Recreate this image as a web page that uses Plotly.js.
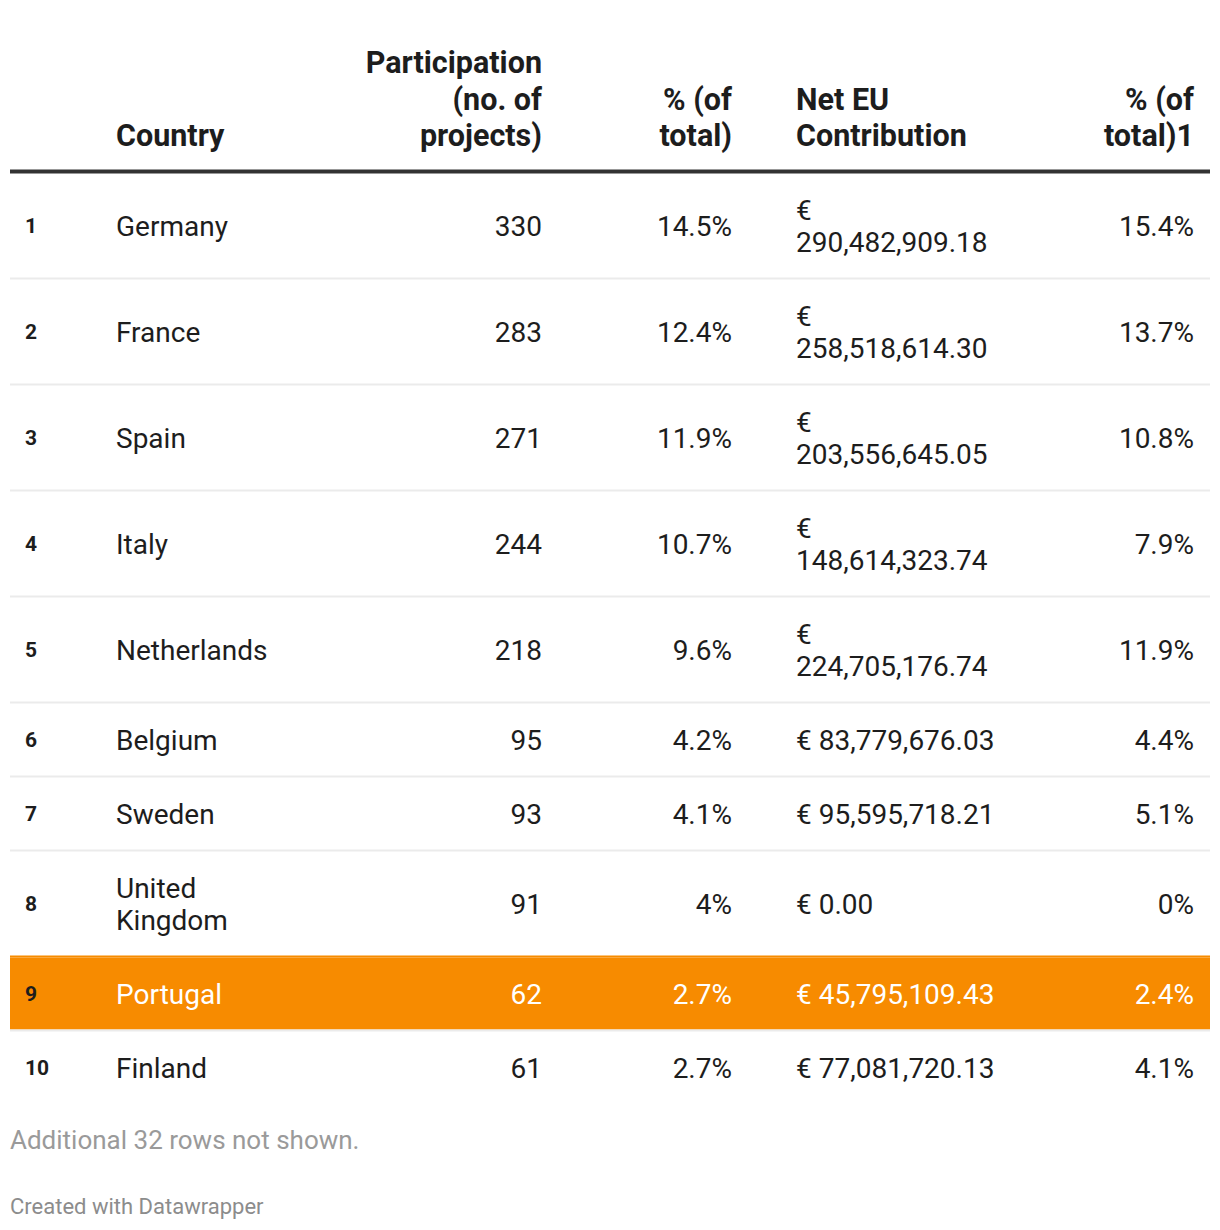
<!DOCTYPE html>
<html>
<head>
<meta charset="utf-8">
<script src="https://cdn.plot.ly/plotly-3.0.1.min.js"></script>
<style>
  html, body { margin: 0; padding: 0; background: #ffffff; }
  #chart { width: 1220px; height: 1230px; }
</style>
</head>
<body>
<div id="chart"></div>
<script>
// ---------------- data ----------------
const ranks = [1, 2, 3, 4, 5, 6, 7, 8, 9, 10];
const countries = ['Germany', 'France', 'Spain', 'Italy', 'Netherlands', 'Belgium', 'Sweden', 'United Kingdom', 'Portugal', 'Finland'];
const participation = [330, 283, 271, 244, 218, 95, 93, 91, 62, 61];
const participationShare = ['14.5%', '12.4%', '11.9%', '10.7%', '9.6%', '4.2%', '4.1%', '4%', '2.7%', '2.7%'];
const netContribution = [290482909.18, 258518614.30, 203556645.05, 148614323.74, 224705176.74, 83779676.03, 95595718.21, 0.00, 45795109.43, 77081720.13];
const contributionShare = ['15.4%', '13.7%', '10.8%', '7.9%', '11.9%', '4.4%', '5.1%', '0%', '2.4%', '4.1%'];
const headerLabels = ['', 'Country', 'Participation<br>(no. of<br>projects)', '% (of<br>total)', 'Net EU<br>Contribution', '% (of<br>total)1'];
const highlightCountry = 'Portugal';
const hiddenRowCount = 32;
const creditText = 'Created with Datawrapper';

// ---------------- layout constants ----------------
const W = 1220, H = 1230;
const TABLE_L = 10, TABLE_R = 1210;
const colX = [25, 116, 542, 732, 796, 1194];
const colAlign = ['left', 'left', 'right', 'right', 'left', 'right'];
const colWrap = [99, 12, 99, 99, 15, 99];
const BODY_FS = 28, RANK_FS = 21, HEAD_FS = 30.5;
const LINE_H = 32.5, HEAD_LINE_H = 36.4, HEAD_BASE = 146;
const TEXT = '#1d1d1d';
const ORANGE = '#f78b00';
const SEP = '#ebebeb';
const HEADER_LINE_Y = 171.5;
const BODY_TOP = 173.5;

function wrap(str, maxChars) {
  const words = String(str).split(' ');
  const lines = [];
  let cur = '';
  words.forEach(w => {
    const cand = cur ? cur + ' ' + w : w;
    if (cand.length > maxChars && cur) { lines.push(cur); cur = w; }
    else cur = cand;
  });
  if (cur) lines.push(cur);
  return lines;
}
function fmtEuro(v) {
  return '€ ' + v.toLocaleString('en-US', { minimumFractionDigits: 2, maximumFractionDigits: 2 });
}

// cell strings for each row
const rows = ranks.map((r, i) => [
  String(r),
  countries[i],
  String(participation[i]),
  participationShare[i],
  fmtEuro(netContribution[i]),
  contributionShare[i]
]);

// geometry derived from wrapped line counts
const shapes = [];
let y = BODY_TOP;
const rowCenters = [];
const rowLines = [];
rows.forEach((cells, i) => {
  const wrapped = cells.map((c, j) => wrap(c, colWrap[j]));
  const n = Math.max(...wrapped.map(w => w.length));
  const h = 40 + 32 * n;
  const isHi = countries[i] === highlightCountry;
  if (i > 0) {
    shapes.push({ type: 'rect', xref: 'x', yref: 'y', x0: TABLE_L, x1: TABLE_R, y0: y, y1: y + 2,
      fillcolor: isHi ? ORANGE : SEP, line: { width: 0 }, layer: 'below' });
    y += 2;
  }
  if (isHi) {
    shapes.push({ type: 'rect', xref: 'x', yref: 'y', x0: TABLE_L, x1: TABLE_R, y0: y, y1: y + h,
      fillcolor: ORANGE, line: { width: 0 }, layer: 'below' });
  }
  rowCenters.push(y + h / 2);
  rowLines.push(wrapped);
  y += h;
});
shapes.push({ type: 'line', xref: 'x', yref: 'y', x0: TABLE_L, x1: TABLE_R, y0: HEADER_LINE_Y, y1: HEADER_LINE_Y,
  line: { color: '#333333', width: 4 }, layer: 'below' });

// body traces
const traces = [];
for (let j = 0; j < colX.length; j++) {
  const xs = [], ys = [], ts = [], cs = [];
  const fs = j === 0 ? RANK_FS : BODY_FS;
  rowLines.forEach((wrapped, i) => {
    const lines = wrapped[j];
    const n = lines.length;
    const isHi = countries[i] === highlightCountry;
    lines.forEach((t, k) => {
      const baseline = rowCenters[i] + 0.3555 * fs + 0.5 + (k - (n - 1) / 2) * LINE_H;
      xs.push(colX[j]);
      ys.push(baseline - 0.25 * fs);
      ts.push(t);
      cs.push(isHi && j > 0 ? '#ffffff' : TEXT);
    });
  });
  traces.push({
    type: 'scatter', mode: 'text', x: xs, y: ys, text: ts,
    textposition: colAlign[j] === 'left' ? 'middle right' : 'middle left',
    textfont: { family: 'Roboto', size: fs, color: cs, weight: j === 0 ? 700 : 400 },
    hoverinfo: 'skip', showlegend: false, cliponaxis: false
  });
}
// header (bottom-aligned, one point per line)
const hx = [], hy = [], ht = [], hp = [];
headerLabels.forEach((lab, j) => {
  if (!lab) return;
  const parts = lab.split('<br>');
  parts.forEach((p, k) => {
    const baseline = HEAD_BASE - (parts.length - 1 - k) * HEAD_LINE_H;
    hx.push(colX[j]); hy.push(baseline - 0.25 * HEAD_FS); ht.push(p);
    hp.push(colAlign[j] === 'left' ? 'middle right' : 'middle left');
  });
});
traces.push({
  type: 'scatter', mode: 'text', x: hx, y: hy, text: ht, textposition: hp,
  textfont: { family: 'Roboto', size: HEAD_FS, color: TEXT, weight: 700 },
  hoverinfo: 'skip', showlegend: false, cliponaxis: false
});
// notes
traces.push({
  type: 'scatter', mode: 'text', x: [TABLE_L, TABLE_L],
  y: [1148.5 - 0.25 * 26, 1214 - 0.25 * 22],
  text: ['Additional ' + hiddenRowCount + ' rows not shown.', creditText],
  textposition: 'middle right',
  textfont: { family: 'Roboto', size: [26, 22], color: ['#9a9a9a', '#8c8c8c'] },
  hoverinfo: 'skip', showlegend: false, cliponaxis: false
});

const layout = {
  width: W, height: H, autosize: false,
  margin: { l: 0, r: 0, t: 0, b: 0, pad: 0 },
  paper_bgcolor: '#ffffff', plot_bgcolor: '#ffffff',
  xaxis: { range: [0, W], visible: false, fixedrange: true },
  yaxis: { range: [H, 0], visible: false, fixedrange: true },
  shapes: shapes,
  showlegend: false,
  hovermode: false
};
Plotly.newPlot('chart', traces, layout, { displayModeBar: false, staticPlot: true });
</script>
</body>
</html>
